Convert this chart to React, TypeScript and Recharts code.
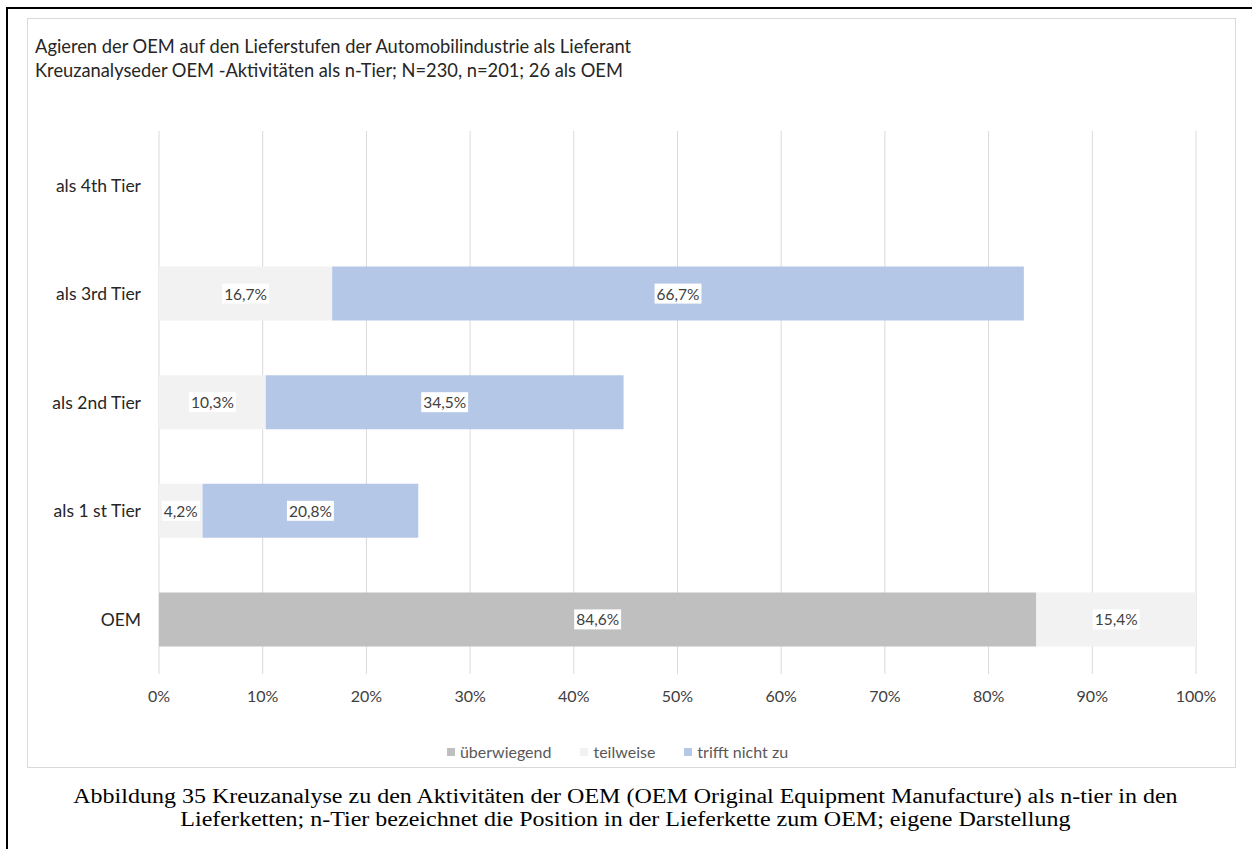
import React from 'react';
import { BarChart, Bar, XAxis, YAxis, CartesianGrid, LabelList } from 'recharts';

const categories = ['als 4th Tier', 'als 3rd Tier', 'als 2nd Tier', 'als 1 st Tier', 'OEM'];
const ueberwiegend: (number | null)[] = [null, null, null, null, 84.6];
const teilweise: (number | null)[] = [null, 16.7, 10.3, 4.2, 15.4];
const trifftNicht: (number | null)[] = [null, 66.7, 34.5, 20.8, null];
const xTicks = [0, 10, 20, 30, 40, 50, 60, 70, 80, 90, 100];

const seriesNames = ['überwiegend', 'teilweise', 'trifft nicht zu'];
const seriesColors = ['#bfbfbf', '#f2f2f2', '#b4c7e7'];
const seriesKeys = ['ueberwiegend', 'teilweise', 'trifftNicht'];

const data = categories.map((c, i) => ({
  name: c,
  ueberwiegend: ueberwiegend[i],
  teilweise: teilweise[i],
  trifftNicht: trifftNicht[i],
}));

const FONT = 'Lato, "Open Sans", sans-serif';
const LABEL_SIZE = 15.5;

let ctx: CanvasRenderingContext2D | null = null;
function measure(text: string, size: number) {
  if (!ctx) {
    const c = document.createElement('canvas');
    ctx = c.getContext('2d');
  }
  if (!ctx) return text.length * size * 0.55;
  ctx.font = `${size}px Lato`;
  return ctx.measureText(text).width;
}

const fmt = (v: number) => v.toFixed(1).replace('.', ',') + '%';

const BoxLabel = (props: any) => {
  const { x, y, width, height, value } = props;
  if (value === null || value === undefined || value === 0) return null;
  const text = fmt(Number(value));
  const w = measure(text, LABEL_SIZE) + 4;
  const h = 20;
  const cx = Number(x) + Number(width) / 2;
  const cy = Number(y) + Number(height) / 2;
  return (
    <g>
      <rect x={cx - w / 2} y={cy - h / 2} width={w} height={h} fill="#ffffff" />
      <text
        x={cx}
        y={cy}
        textAnchor="middle"
        dominantBaseline="central"
        fontFamily={FONT}
        fontSize={LABEL_SIZE}
        fill="#404040"
      >
        {text}
      </text>
    </g>
  );
};

export default function App() {
  return (
    <div
      style={{
        position: 'absolute',
        left: 0,
        top: 0,
        width: 1252,
        height: 849,
        background: '#ffffff',
        overflow: 'hidden',
      }}
    >
      {/* outer frame */}
      <div
        style={{
          position: 'absolute',
          left: 6,
          top: 7,
          width: 1300,
          height: 900,
          borderLeft: '2px solid #000',
          borderTop: '2px solid #000',
        }}
      />
      {/* chart box */}
      <div
        style={{
          position: 'absolute',
          left: 27,
          top: 18,
          width: 1209,
          height: 750,
          border: '1px solid #d9d9d9',
          boxSizing: 'border-box',
          background: '#fff',
        }}
      >
        <div
          style={{
            position: 'absolute',
            left: 7,
            top: 15,
            fontFamily: FONT,
            fontSize: 18.3,
            lineHeight: '24px',
            color: '#262626',
            whiteSpace: 'nowrap',
          }}
        >
          <div>Agieren der OEM auf den Lieferstufen der Automobilindustrie als Lieferant</div>
          <div>Kreuzanalyseder OEM -Aktivitäten als n-Tier; N=230, n=201; 26 als OEM</div>
        </div>
        <div style={{ position: 'absolute', left: 0, top: 0 }}>
          <BarChart
            width={1207}
            height={748}
            data={data}
            layout="vertical"
            margin={{ top: 112, right: 39, left: 0, bottom: 63 }}
            barCategoryGap={0}
          >
            <CartesianGrid horizontal={false} vertical={true} stroke="#d9d9d9" />
            <XAxis
              type="number"
              domain={[0, 100]}
              ticks={xTicks}
              tickFormatter={(v: number) => `${v}%`}
              axisLine={false}
              tickLine={false}
              tickMargin={11}
              height={30}
              tick={{ fontFamily: FONT, fontSize: 16, fill: '#404040' }}
              interval={0}
            />
            <YAxis
              type="category"
              dataKey="name"
              width={131}
              axisLine={false}
              tickLine={false}
              tickMargin={12}
              tick={{ fontFamily: FONT, fontSize: 17.5, fill: '#262626' }}
              interval={0}
            />
            {seriesKeys.map((k, i) => (
              <Bar
                key={k}
                dataKey={k}
                name={seriesNames[i]}
                stackId="a"
                fill={seriesColors[i]}
                barSize={54}
                isAnimationActive={false}
              >
                <LabelList dataKey={k} content={BoxLabel} />
              </Bar>
            ))}
          </BarChart>
        </div>
        {/* legend */}
        <div
          style={{
            position: 'absolute',
            left: -14,
            width: '100%',
            top: 723,
            display: 'flex',
            justifyContent: 'center',
            fontFamily: FONT,
            fontSize: 16,
            color: '#595959',
            lineHeight: '20px',
          }}
        >
          {seriesNames.map((n, i) => (
            <div key={n} style={{ display: 'flex', alignItems: 'center', marginLeft: i === 0 ? 0 : 29 }}>
              <span
                style={{
                  display: 'inline-block',
                  width: 8,
                  height: 8,
                  background: seriesColors[i],
                  marginRight: 5,
                }}
              />
              <span>{n}</span>
            </div>
          ))}
        </div>
      </div>
      {/* caption */}
      <div
        style={{
          position: 'absolute',
          left: 0,
          width: 1252,
          top: 785,
          textAlign: 'center',
          fontFamily: '"Liberation Serif", "Times New Roman", serif',
          fontSize: 20,
          lineHeight: '23px',
          color: '#000',
          transform: 'scaleX(1.2)',
          transformOrigin: '629px 0',
        }}
      >
        <div>Abbildung 35 Kreuzanalyse zu den Aktivitäten der OEM (OEM Original Equipment Manufacture) als n-tier in den</div>
        <div>Lieferketten; n-Tier bezeichnet die Position in der Lieferkette zum OEM; eigene Darstellung</div>
      </div>
    </div>
  );
}
